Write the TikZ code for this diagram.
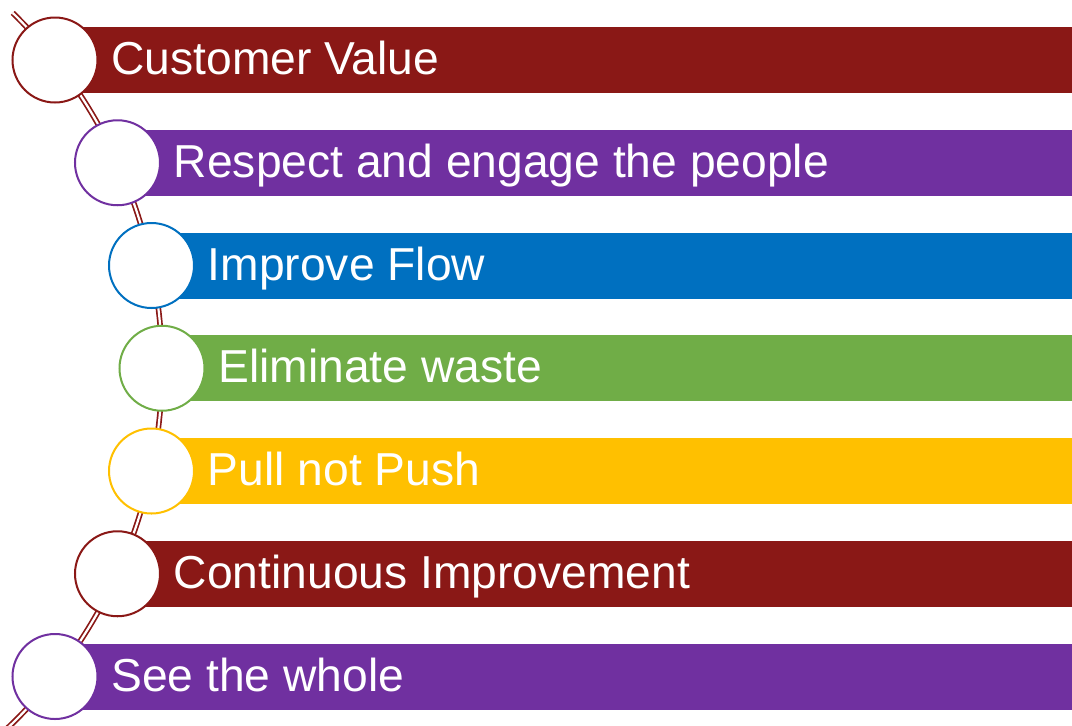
\documentclass[tikz,border=0pt]{standalone}
\usepackage{fontspec}
\setmainfont{Liberation Sans}
\definecolor{cred}{HTML}{8A1816}
\definecolor{cpurple}{HTML}{7030A0}
\definecolor{cblue}{HTML}{0070C0}
\definecolor{cgreen}{HTML}{70AD47}
\definecolor{cgold}{HTML}{FFC000}
\begin{document}
\begin{tikzpicture}[x=0.5pt,y=-0.5pt,
  ring/.style={circle,draw=#1,line width=1pt,fill=white,minimum size=42.5pt,inner sep=0pt},
  label/.style={anchor=base west,inner sep=0pt,text=white,font=\fontsize{23.1}{27}\selectfont},
  spine/.style={draw=cred,line width=0.85pt,double=white,double distance=1.1pt}]
\useasboundingbox (0,0) rectangle (1072,725);
\clip (0,0) rectangle (1072,725);
\coordinate (arcc) at (-335,368);
% spine arc
\draw[spine] ([shift={(45.6:248.5pt)}]arcc) arc[start angle=45.6,end angle=-48,radius=248.5pt];
% items
\foreach \i/\cx/\col/\txt in {0/55/cred/Customer Value,1/117.5/cpurple/Respect and engage the people,2/151.5/cblue/Improve Flow,3/162/cgreen/Eliminate waste,4/151.5/cgold/Pull not Push,5/117.5/cred/Continuous Improvement,6/55/cpurple/See the whole}{
  \pgfmathsetmacro{\cy}{60+\i*102.75}
  \fill[\col] (\cx,\cy-33) rectangle (1072,\cy+33);
  \node[ring=\col] (c\i) at (\cx,\cy) {};
  \node[label] (t\i) at (\cx+56,\cy+14.5) {\txt};
}
\end{tikzpicture}
\end{document}
